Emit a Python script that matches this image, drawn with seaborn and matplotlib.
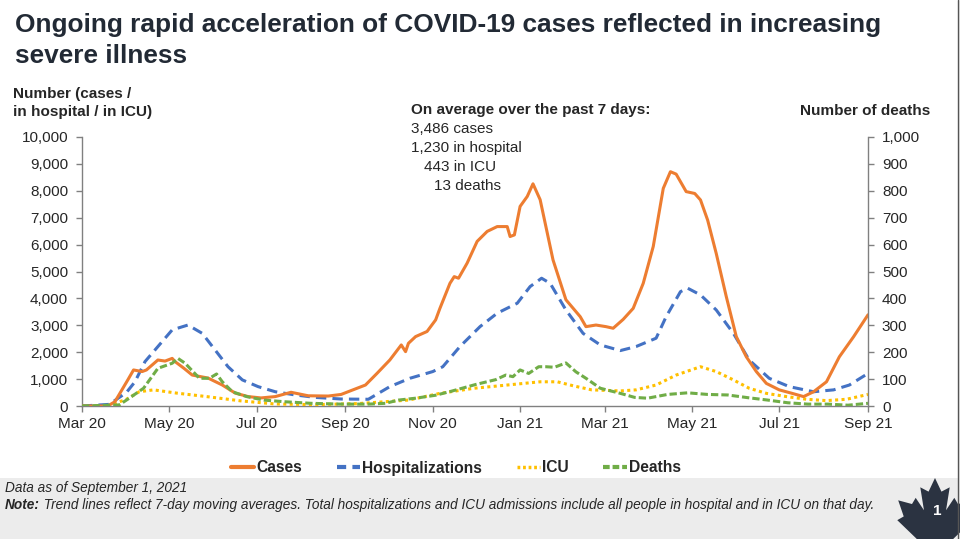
import numpy as np
import pandas as pd
import matplotlib.pyplot as plt
import matplotlib.dates as mdates
import seaborn as sns
from matplotlib import font_manager
from matplotlib.lines import Line2D
from matplotlib.patches import Polygon, Rectangle
from matplotlib.ticker import FuncFormatter, MultipleLocator

# --- data (7-day moving averages) ---
case_dates = ["2020-03-01", "2020-03-19", "2020-03-24", "2020-04-02", "2020-04-06", "2020-04-12",
              "2020-04-15", "2020-04-23", "2020-04-28", "2020-05-03", "2020-05-05", "2020-05-11",
              "2020-05-17", "2020-05-28", "2020-06-07", "2020-06-16", "2020-06-25", "2020-07-04",
              "2020-07-14", "2020-07-25", "2020-08-06", "2020-08-20", "2020-08-29", "2020-09-06",
              "2020-09-15", "2020-09-23", "2020-10-02", "2020-10-10", "2020-10-13", "2020-10-15",
              "2020-10-20", "2020-10-28", "2020-11-03", "2020-11-06", "2020-11-13", "2020-11-16",
              "2020-11-19", "2020-11-25", "2020-12-02", "2020-12-09", "2020-12-16", "2020-12-23",
              "2020-12-25", "2020-12-28", "2021-01-01", "2021-01-06", "2021-01-10", "2021-01-15",
              "2021-01-24", "2021-02-02", "2021-02-12", "2021-02-16", "2021-02-23", "2021-03-02",
              "2021-03-07", "2021-03-14", "2021-03-21", "2021-03-28", "2021-04-04", "2021-04-11",
              "2021-04-16", "2021-04-20", "2021-04-27", "2021-05-03", "2021-05-07", "2021-05-12",
              "2021-05-18", "2021-05-25", "2021-06-01", "2021-06-08", "2021-06-15", "2021-06-22",
              "2021-07-01", "2021-07-10", "2021-07-18", "2021-07-25", "2021-08-03", "2021-08-12",
              "2021-08-22", "2021-09-01"]
cases = [0, 0, 160, 970, 1340, 1280,
         1340, 1710, 1670, 1770, 1650, 1410,
         1150, 1040, 780, 480, 350, 300,
         350, 510, 380, 370, 430, 595,
         780, 1210, 1710, 2270, 2020, 2330,
         2580, 2770, 3200, 3630, 4560, 4810,
         4750, 5310, 6120, 6490, 6670, 6670,
         6300, 6360, 7420, 7790, 8260, 7670,
         5430, 3950, 3320, 2950, 3010, 2950,
         2890, 3220, 3630, 4560, 5930, 8090,
         8710, 8620, 7970, 7900, 7660, 6910,
         5670, 4070, 2580, 1830, 1280, 840,
         600, 470, 350, 530, 900, 1830,
         2580, 3390]

hosp_dates = ["2020-03-01", "2020-03-20", "2020-04-01", "2020-04-07", "2020-04-14", "2020-05-03",
              "2020-05-14", "2020-05-24", "2020-06-02", "2020-06-11", "2020-06-21", "2020-07-02",
              "2020-07-14", "2020-07-28", "2020-08-11", "2020-08-29", "2020-09-17", "2020-10-02",
              "2020-10-16", "2020-11-01", "2020-11-08", "2020-11-20", "2020-12-04", "2020-12-16",
              "2020-12-30", "2021-01-08", "2021-01-16", "2021-01-22", "2021-02-02", "2021-02-14",
              "2021-02-26", "2021-03-12", "2021-03-23", "2021-04-06", "2021-04-13", "2021-04-23",
              "2021-04-28", "2021-05-07", "2021-05-18", "2021-05-30", "2021-06-10", "2021-06-24",
              "2021-07-08", "2021-07-25", "2021-08-08", "2021-08-19", "2021-09-01"]
hospital = [0, 60, 500, 900, 1650, 2830,
            3010, 2700, 2080, 1460, 970, 720,
            530, 410, 320, 260, 250, 720,
            1030, 1280, 1460, 2210, 2950, 3450,
            3820, 4440, 4750, 4560, 3570, 2700,
            2270, 2060, 2210, 2520, 3320, 4250,
            4380, 4130, 3570, 2700, 1710, 1030,
            720, 530, 600, 780, 1210]

icu_dates = ["2020-03-01", "2020-03-20", "2020-04-01", "2020-04-10", "2020-04-20", "2020-05-06",
             "2020-05-27", "2020-06-20", "2020-07-14", "2020-08-10", "2020-09-10", "2020-10-15",
             "2020-11-06", "2020-11-30", "2020-12-23", "2021-01-15", "2021-01-27", "2021-02-08",
             "2021-02-20", "2021-03-12", "2021-03-23", "2021-04-06", "2021-04-20", "2021-05-07",
             "2021-05-18", "2021-05-30", "2021-06-10", "2021-06-22", "2021-07-06", "2021-07-20",
             "2021-08-03", "2021-08-17", "2021-09-01"]
icu = [0, 20, 250, 530, 600, 480,
       350, 190, 75, 50, 90, 220,
       470, 660, 780, 900, 900, 740,
       600, 560, 600, 780, 1150, 1460,
       1280, 970, 660, 470, 350, 250,
       200, 250, 430]

death_dates = ["2020-03-01", "2020-03-27", "2020-04-03", "2020-04-13", "2020-04-23", "2020-05-03",
               "2020-05-07", "2020-05-12", "2020-05-22", "2020-05-29", "2020-06-03", "2020-06-07",
               "2020-06-14", "2020-06-24", "2020-07-06", "2020-07-20", "2020-08-08", "2020-08-29",
               "2020-09-17", "2020-09-29", "2020-10-08", "2020-10-20", "2020-11-03", "2020-11-14",
               "2020-12-01", "2020-12-15", "2020-12-22", "2020-12-27", "2021-01-01", "2021-01-07",
               "2021-01-14", "2021-01-19", "2021-01-25", "2021-02-02", "2021-02-09", "2021-02-16",
               "2021-02-26", "2021-03-12", "2021-03-22", "2021-03-31", "2021-04-14", "2021-04-28",
               "2021-05-12", "2021-05-26", "2021-06-09", "2021-06-23", "2021-07-07", "2021-07-21",
               "2021-08-04", "2021-08-18", "2021-09-01"]
deaths = [0, 4, 29, 66, 140, 159,
          177, 159, 103, 103, 119, 90,
          53, 35, 22, 16, 10, 7,
          7, 10, 22, 29, 40, 55,
          80, 98, 115, 109, 134, 121,
          146, 146, 144, 160, 127, 103,
          66, 47, 32, 29, 43, 49,
          43, 41, 31, 22, 12, 7,
          7, 3, 10]

annotation_head = "On average over the past 7 days:"
annotation_lines = ["3,486 cases", "1,230 in hospital", "443 in ICU", "13 deaths"]

cases_df = pd.DataFrame({"date": pd.to_datetime(case_dates), "value": cases})
hosp_df = pd.DataFrame({"date": pd.to_datetime(hosp_dates), "value": hospital})
icu_df = pd.DataFrame({"date": pd.to_datetime(icu_dates), "value": icu})
deaths_df = pd.DataFrame({"date": pd.to_datetime(death_dates), "value": deaths})

C_CASES = "#ED7D31"
C_HOSP = "#4472C4"
C_ICU = "#FFC000"
C_DEATHS = "#70AD47"
C_TITLE = "#222a35"

sns.set_style("white")
plt.rcParams["font.family"] = ["Liberation Sans", "DejaVu Sans"]

names = {f.name for f in font_manager.fontManager.ttflist}
if "Liberation Sans Narrow" in names:
    NARROW, K = "Liberation Sans Narrow", 1.0
else:
    NARROW, K = "Liberation Sans", 0.82

W, H = 960, 539
fig = plt.figure(figsize=(9.6, 5.39), dpi=100)

# footer band and right page edge
fig.patches.append(Rectangle((0, 0), 1, (H - 478) / H, transform=fig.transFigure,
                             facecolor="#ececec", edgecolor="none", zorder=-1))
fig.patches.append(Rectangle((958 / W, 0), 2 / W, 1, transform=fig.transFigure,
                             facecolor="#ececec", edgecolor="none", zorder=-1))
fig.add_artist(Line2D([958 / W, 958 / W], [0, 1], transform=fig.transFigure,
                      color="#555555", lw=1.0, zorder=2))

ax = fig.add_axes([82 / W, 1 - 406 / H, (868 - 82) / W, (406 - 137) / H])
ax2 = ax.twinx()

lw = 2.2
sns.lineplot(data=cases_df, x="date", y="value", ax=ax, color=C_CASES, lw=lw, errorbar=None,
             zorder=5)
sns.lineplot(data=hosp_df, x="date", y="value", ax=ax, color=C_HOSP, lw=lw, errorbar=None,
             linestyle=(0, (3.4, 2.0)), zorder=4)
sns.lineplot(data=icu_df, x="date", y="value", ax=ax, color=C_ICU, lw=lw, errorbar=None,
             linestyle=(0, (1, 1.1)), zorder=3)
sns.lineplot(data=deaths_df, x="date", y="value", ax=ax2, color=C_DEATHS, lw=lw, errorbar=None,
             linestyle=(0, (2.4, 1.0)))

start, end = pd.Timestamp("2020-03-01"), pd.Timestamp("2021-09-01")
ax.set_xlim(start, end)
ax.set_ylim(0, 10000)
ax2.set_ylim(0, 1000)
ax.yaxis.set_major_locator(MultipleLocator(1000))
ax2.yaxis.set_major_locator(MultipleLocator(100))
ax.yaxis.set_major_formatter(FuncFormatter(lambda v, p: f"{v:,.0f}"))
ax2.yaxis.set_major_formatter(FuncFormatter(lambda v, p: f"{v:,.0f}"))
ax.xaxis.set_major_locator(mdates.MonthLocator(bymonth=[1, 3, 5, 7, 9, 11]))
ax.xaxis.set_major_formatter(mdates.DateFormatter("%b %y"))

for a in (ax, ax2):
    a.set_xlabel("")
    a.set_ylabel("")
    a.spines["top"].set_visible(False)
    for s in ("left", "right", "bottom"):
        a.spines[s].set_color("#808080")
        a.spines[s].set_linewidth(1.0)
ax.spines["right"].set_visible(False)
ax2.spines["left"].set_visible(False)
ax2.spines["bottom"].set_visible(False)

ax.tick_params(axis="y", direction="out", length=4, width=1, color="#808080",
               labelsize=11, pad=6, left=True)
ax.tick_params(axis="x", direction="out", length=4, width=1, color="#808080",
               labelsize=13.5 * K, pad=4, bottom=True)
ax2.tick_params(axis="y", direction="out", length=4, width=1, color="#808080",
                labelsize=11, pad=6, right=True)
for lab in ax.get_xticklabels():
    lab.set_fontfamily(NARROW)

# title
TS = 18.9 if K < 1 else 20.4
fig.text(15 / W, 1 - 25 / H, "Ongoing rapid acceleration of COVID-19 cases reflected in increasing",
         fontsize=TS, fontweight="bold", color=C_TITLE, family=NARROW, va="center")
fig.text(15 / W, 1 - 56 / H, "severe illness",
         fontsize=TS, fontweight="bold", color=C_TITLE, family=NARROW, va="center")

# axis titles
fig.text(13 / W, 1 - 94 / H, "Number (cases /", fontsize=11, fontweight="bold", va="center")
fig.text(13 / W, 1 - 112 / H, "in hospital / in ICU)", fontsize=11, fontweight="bold", va="center")
fig.text(930 / W, 1 - 111 / H, "Number of deaths", fontsize=11, fontweight="bold",
         va="center", ha="right")

# 7-day averages note
fig.text(411 / W, 1 - 110 / H, annotation_head, fontsize=11, fontweight="bold", va="center")
for i, (txt, xo) in enumerate(zip(annotation_lines, [411, 411, 424, 434])):
    fig.text(xo / W, 1 - (129 + 19 * i) / H, txt, fontsize=11, va="center")

# legend
handles = [
    Line2D([], [], color=C_CASES, lw=3),
    Line2D([], [], color=C_HOSP, lw=3, linestyle=(0, (2.2, 1.5))),
    Line2D([], [], color=C_ICU, lw=2.5, linestyle=(0, (0.8, 0.8))),
    Line2D([], [], color=C_DEATHS, lw=3, linestyle=(0, (1.6, 0.7))),
]
fig.legend(handles, ["Cases", "Hospitalizations", "ICU", "Deaths"], loc="center",
           bbox_to_anchor=(456 / W, 1 - 468 / H), ncol=4, frameon=False,
           handlelength=1.5, handletextpad=0.15, columnspacing=2.2,
           prop={"family": NARROW, "weight": "bold", "size": 13.7 * K})

# footer notes
fig.text(5 / W, 1 - 488 / H, "Data as of September 1, 2021", fontsize=12 * K, style="italic",
         family=NARROW, va="center")
note = fig.text(5 / W, 1 - 505 / H, "Note:", fontsize=12 * K, style="italic", fontweight="bold",
                family=NARROW, va="center")
fig.add_artist(plt.Annotation(
    " Trend lines reflect 7-day moving averages. Total hospitalizations and ICU admissions "
    "include all people in hospital and in ICU on that day.",
    xy=(1, 0), xycoords=note, va="bottom", ha="left", fontsize=12 * K, style="italic",
    family=NARROW, annotation_clip=False))

# maple leaf badge
leaf = np.array([(0, 0), (0.14, 0.22), (0.32, 0.15), (0.24, 0.52), (0.42, 0.32), (0.50, 0.42),
                 (0.80, 0.36), (0.68, 0.62), (0.82, 0.68), (0.40, 0.98), (0.46, 1.1), (0.06, 1.04),
                 (0.06, 1.4), (-0.06, 1.4), (-0.06, 1.04), (-0.46, 1.1), (-0.40, 0.98),
                 (-0.82, 0.68), (-0.68, 0.62), (-0.80, 0.36), (-0.50, 0.42), (-0.42, 0.32),
                 (-0.24, 0.52), (-0.32, 0.15), (-0.14, 0.22)])
px = leaf[:, 0] * 46 + 935
py = leaf[:, 1] * 62 + 478
fig.patches.append(Polygon(np.column_stack([px / W, 1 - py / H]), closed=True,
                           transform=fig.transFigure, facecolor="#2b3341", edgecolor="none",
                           zorder=1))
fig.text(937 / W, 1 - 511 / H, "1", color="white", fontsize=11, fontweight="bold",
         ha="center", va="center")

fig.savefig("out.png", dpi=100)
